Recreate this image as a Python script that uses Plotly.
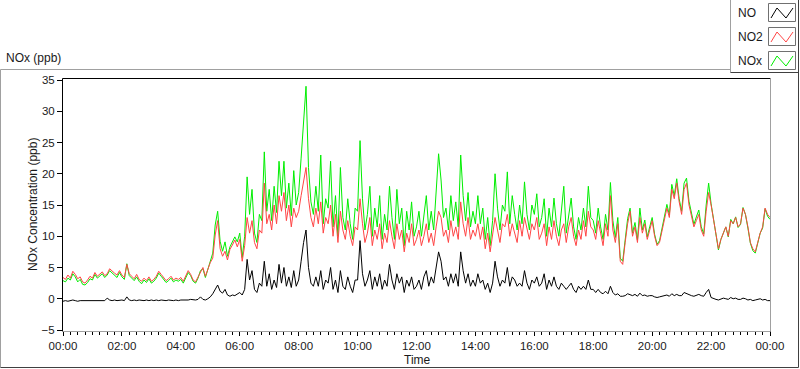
import pandas as pd
import plotly.graph_objects as go

# 5-minute values, 00:00 .. 24:00 (289 samples)
no2_ppb = [
    3.4,3.1,3.8,3.3,4.4,3.9,3.2,3.5,2.7,2.5,3.0,3.6,
    3.3,4.2,3.6,3.9,4.3,3.7,4.0,4.8,4.4,4.1,3.8,4.5,
    3.8,3.4,5.5,4.0,3.6,3.2,3.9,3.1,2.8,3.3,2.9,3.5,
    2.8,3.1,3.6,4.4,3.9,3.4,2.9,3.2,3.6,3.0,3.3,3.1,
    3.4,2.8,3.6,4.5,3.9,3.0,2.7,3.5,4.3,5.0,3.6,4.8,
    5.8,6.5,10.2,12.5,8.0,6.8,7.6,6.2,7.9,8.6,9.4,8.3,
    9.5,6.0,8.5,13.0,10.5,12.5,9.0,8.0,11.0,10.5,18.5,12.0,
    13.5,11.0,15.0,12.0,16.5,14.0,17.0,12.5,15.0,11.5,14.5,13.0,
    14.0,16.5,19.0,21.0,16.0,13.0,11.5,14.5,12.0,15.5,10.5,13.0,
    12.0,15.0,10.0,13.5,9.0,14.0,11.0,9.5,12.5,10.0,8.5,11.5,
    11.0,16.0,12.0,9.0,10.5,13.0,8.5,11.0,9.5,12.0,8.0,10.5,
    9.0,12.5,10.0,8.0,12.0,9.5,11.0,7.5,10.5,9.0,12.0,8.5,
    9.5,11.0,8.5,10.0,12.0,9.0,10.5,8.5,11.5,14.0,13.0,10.0,
    11.0,9.0,12.5,10.0,11.5,9.5,15.5,12.0,10.0,13.0,9.5,11.0,
    10.0,12.0,9.5,11.5,8.0,10.5,7.5,10.0,13.0,11.0,9.0,12.0,
    11.5,13.5,10.0,12.0,10.5,9.0,12.5,10.0,13.0,11.0,9.5,12.0,
    11.0,13.0,9.5,10.5,12.0,8.5,11.5,9.5,12.5,10.0,8.5,11.0,
    12.0,9.0,11.5,13.0,10.0,8.5,11.0,9.5,12.5,10.0,14.0,11.5,
    11.0,9.5,12.5,10.5,8.5,12.0,10.0,16.5,11.0,9.0,12.0,6.0,
    5.5,9.0,12.0,14.0,10.0,11.5,9.0,13.0,10.5,12.0,9.5,11.0,
    12.5,10.0,8.5,9.0,11.0,12.5,14.5,13.0,17.5,16.0,18.5,15.5,
    13.5,17.5,18.5,15.0,13.0,11.5,12.5,13.5,11.0,10.0,14.0,17.0,
    15.0,12.5,10.0,8.0,9.5,10.5,11.5,10.0,12.5,12.0,13.0,11.5,
    12.0,14.5,13.5,11.5,9.0,8.0,7.5,9.0,10.5,11.5,14.5,13.5,
    13.0,
]

no_ppb = [
    -0.4,-0.3,-0.4,-0.3,-0.2,-0.3,-0.4,-0.3,-0.3,-0.2,-0.3,-0.3,
    -0.3,-0.2,-0.3,-0.2,-0.3,-0.3,0.1,-0.2,-0.3,-0.2,-0.3,-0.2,
    -0.2,-0.3,0.3,-0.2,-0.3,-0.2,-0.3,-0.2,-0.3,-0.3,-0.2,-0.3,
    -0.2,-0.3,-0.2,-0.3,-0.2,-0.3,-0.3,-0.2,-0.3,-0.3,-0.2,-0.3,
    -0.2,-0.2,-0.3,-0.2,-0.1,-0.2,-0.2,-0.1,0.3,-0.1,-0.2,0.0,
    0.3,0.8,1.6,2.2,1.2,0.9,1.5,0.6,0.4,0.6,0.5,0.8,
    1.0,0.6,1.5,6.3,3.0,4.5,1.5,1.0,2.5,2.0,6.0,2.0,
    4.0,1.5,3.0,1.8,5.5,2.5,5.0,2.0,3.5,1.8,4.5,2.0,
    3.0,6.0,9.0,11.0,5.0,2.5,2.0,3.5,2.0,4.5,1.5,3.0,
    2.5,5.0,1.5,3.0,1.0,4.5,2.0,1.5,3.5,2.0,1.0,3.0,
    3.0,9.3,4.0,2.0,3.0,4.5,1.5,3.5,2.0,4.0,1.5,3.0,
    2.0,5.5,3.0,1.5,4.0,2.5,3.5,1.0,3.0,2.0,3.5,1.5,
    2.0,3.0,1.5,3.5,4.5,2.0,3.5,2.5,5.0,7.5,6.0,3.0,
    3.5,2.0,4.0,2.5,4.0,2.0,7.5,4.5,2.5,4.0,2.0,3.0,
    2.0,4.0,2.5,3.0,1.5,2.5,1.0,2.5,6.0,3.5,2.0,3.0,
    2.5,5.0,2.0,3.5,3.0,2.0,2.5,2.0,4.5,2.5,1.5,3.0,
    2.5,3.5,2.0,2.5,4.0,1.5,3.0,2.0,3.5,2.0,1.5,2.5,
    2.0,1.5,2.0,2.5,1.5,1.0,2.0,1.5,2.0,1.5,3.0,1.5,
    1.5,1.0,1.5,1.0,0.8,1.2,0.8,2.0,1.0,0.6,0.8,0.4,
    0.4,0.5,0.8,0.6,0.5,0.7,0.4,0.9,0.5,0.6,0.4,0.5,
    0.5,0.3,0.2,0.3,0.4,0.5,0.6,0.4,0.8,0.5,0.7,0.5,
    0.5,1.0,0.8,0.6,0.5,0.4,0.6,0.7,0.5,0.4,1.0,1.5,
    0.2,0.0,-0.1,-0.2,0.0,0.1,0.0,-0.1,0.2,0.0,0.1,-0.1,
    -0.1,0.1,0.0,-0.2,-0.1,-0.3,-0.2,-0.1,0.0,-0.2,-0.1,-0.3,
    -0.3,
]

nox_ppb = [
    2.9,2.7,3.3,3.0,4.0,3.5,2.7,3.1,2.3,2.2,2.6,3.2,
    3.0,3.9,3.3,3.6,4.0,3.4,3.8,4.5,4.1,3.8,3.4,4.2,
    3.5,3.1,5.6,3.7,3.3,2.9,3.5,2.8,2.4,3.0,2.6,3.2,
    2.5,2.8,3.3,4.1,3.6,3.1,2.6,2.9,3.3,2.7,3.0,2.8,
    3.1,2.5,3.3,4.2,3.7,2.8,2.5,3.3,4.5,4.8,3.4,4.7,
    6.1,7.3,11.8,14.0,9.2,7.6,9.1,6.8,8.3,9.2,9.9,9.1,
    10.5,6.6,10.0,19.5,13.5,17.5,10.5,9.0,13.5,12.5,23.5,14.0,
    17.5,12.5,18.0,13.8,22.0,16.5,22.0,14.5,18.5,13.3,20.5,15.0,
    17.0,22.5,28.5,34.0,21.0,15.5,13.5,18.0,14.0,23.0,12.0,16.0,
    14.5,22.0,11.5,16.5,10.0,21.0,13.0,11.0,16.0,12.0,9.5,14.5,
    14.0,25.3,16.0,11.0,13.5,18.0,10.0,14.5,11.5,16.5,9.5,13.5,
    11.0,18.0,13.0,9.5,17.5,12.0,14.5,8.5,14.0,11.0,15.5,10.0,
    11.5,14.0,10.0,13.5,16.5,11.0,14.0,11.0,17.5,23.2,19.0,13.0,
    14.5,11.0,16.5,12.5,15.5,11.5,23.0,16.5,12.5,17.0,11.5,14.0,
    12.0,16.5,12.0,14.5,9.5,13.0,8.5,12.5,20.0,14.5,11.0,15.0,
    14.0,20.3,12.0,16.5,13.5,11.0,15.0,12.0,18.7,13.5,11.0,15.0,
    13.5,16.8,11.5,13.0,16.0,10.0,14.5,11.5,16.1,12.0,10.0,13.5,
    18.0,10.5,13.5,16.1,11.5,9.5,13.0,11.0,14.5,11.5,18.0,13.0,
    12.5,10.5,14.5,11.5,9.5,13.5,11.0,18.6,12.5,9.8,13.0,6.5,
    6.0,9.5,12.8,14.5,10.5,12.2,9.4,14.5,11.0,12.6,9.9,11.5,
    13.0,10.3,8.7,9.3,11.4,13.0,15.1,13.4,18.3,16.5,19.2,16.0,
    14.0,18.5,19.3,15.6,13.5,11.9,13.1,14.2,11.5,10.4,15.0,18.5,
    15.2,12.5,9.9,7.8,9.5,10.6,11.5,9.9,12.7,12.0,13.1,11.4,
    11.9,14.6,13.5,11.3,8.9,7.7,7.3,8.9,10.5,11.3,14.4,13.2,
    12.7,
]

x_tick_labels = ["00:00", "02:00", "04:00", "06:00", "08:00", "10:00", "12:00",
                 "14:00", "16:00", "18:00", "20:00", "22:00", "00:00"]
y_ticks = [-5, 0, 5, 10, 15, 20, 25, 30, 35]

times = pd.date_range("2013-01-01 00:00", periods=len(no_ppb), freq="5min")
tick_vals = pd.date_range("2013-01-01 00:00", periods=len(x_tick_labels), freq="2h")

W, H = 800, 369
L, R, T, B = 63, 770, 80, 330   # plot area in pixels

def px(x):
    return (x - L) / (R - L)

def py(y):
    return (B - y) / (B - T)

FONT = "Liberation Sans"
TXT = "#1a1a1a"

fig = go.Figure()
fig.add_trace(go.Scatter(x=times, y=nox_ppb, mode="lines", name="NOx",
                         line=dict(color="#00ee00", width=1)))
fig.add_trace(go.Scatter(x=times, y=no2_ppb, mode="lines", name="NO2",
                         line=dict(color="#ff4545", width=1)))
fig.add_trace(go.Scatter(x=times, y=no_ppb, mode="lines", name="NO",
                         line=dict(color="#000000", width=1)))

shapes = []
def line(x0, y0, x1, y1, color, w=1):
    shapes.append(dict(type="line", xref="paper", yref="paper",
                       x0=px(x0), y0=py(y0), x1=px(x1), y1=py(y1),
                       line=dict(color=color, width=w)))

# outer panel
line(0.5, 69.5, 730.5, 69.5, "#a0a0a0")
line(0.5, 69.5, 0.5, 367.5, "#a0a0a0")
line(0.5, 367.5, 798.5, 367.5, "#404040")
line(798.5, 72, 798.5, 367.5, "#404040")
# plot frame
line(62.5, 78.5, 770.5, 78.5, "#000000")
line(62.5, 78.5, 62.5, 331.5, "#000000")
line(770.5, 78.5, 770.5, 331.5, "#a0a0a0")
line(62.5, 331.5, 770.5, 331.5, "#a0a0a0")
# legend box
line(730.5, 0, 730.5, 72.5, "#a0a0a0")
line(730.5, 72.5, 798.5, 72.5, "#404040")
line(798.5, 0, 798.5, 72.5, "#404040")

legend_items = [("NO", "#000000", 3), ("NO2", "#ff4545", 27), ("NOx", "#00ee00", 51)]
annotations = []
for name, color, top in legend_items:
    shapes.append(dict(type="rect", xref="paper", yref="paper",
                       x0=px(768.5), x1=px(795.5), y0=py(top + 0.5), y1=py(top + 18.5),
                       line=dict(color="#707070", width=1), fillcolor="white"))
    pts = [(771, top + 15), (777, top + 5), (786, top + 15), (793, top + 5)]
    path = "M " + " L ".join(f"{px(a)},{py(b)}" for a, b in pts)
    shapes.append(dict(type="path", xref="paper", yref="paper", path=path,
                       line=dict(color=color, width=1)))
    annotations.append(dict(text=name, xref="paper", yref="paper",
                            x=px(736), y=py(top + 10), xanchor="left", yanchor="middle",
                            showarrow=False, font=dict(family=FONT, size=12, color=TXT)))

annotations += [
    dict(text="NOx (ppb)", xref="paper", yref="paper", x=px(4), y=py(58),
         xanchor="left", yanchor="middle", showarrow=False,
         font=dict(family=FONT, size=12, color=TXT)),
    dict(text="NOx Concentration (ppb)", xref="paper", yref="paper", x=px(33), y=py(205),
         xanchor="center", yanchor="middle", textangle=-90, showarrow=False,
         font=dict(family=FONT, size=12, color=TXT)),
    dict(text="Time", xref="paper", yref="paper", x=px(417), y=py(360),
         xanchor="center", yanchor="middle", showarrow=False,
         font=dict(family=FONT, size=12, color=TXT)),
]

fig.update_layout(
    width=W, height=H,
    margin=dict(l=L, r=W - R, t=T, b=H - B),
    paper_bgcolor="white", plot_bgcolor="white",
    showlegend=False,
    shapes=shapes, annotations=annotations,
    xaxis=dict(
        range=[tick_vals[0], tick_vals[-1]],
        tickvals=tick_vals, ticktext=x_tick_labels,
        ticks="outside", ticklen=5, tickcolor="#000000",
        minor=dict(dtick=15 * 60 * 1000, ticks="outside", ticklen=4, tickcolor="#000000", showgrid=False),
        showgrid=False, zeroline=False, showline=False,
        tickfont=dict(family=FONT, size=11.5, color=TXT),
    ),
    yaxis=dict(
        range=[-5, 35], tickvals=y_ticks,
        ticks="outside", ticklen=5, tickcolor="#000000",
        showgrid=False, zeroline=False, showline=False,
        tickfont=dict(family=FONT, size=11.5, color=TXT),
    ),
)

fig.write_html("out.html", config={"displayModeBar": False},
               post_script="document.body.style.margin='0';document.body.style.overflow='hidden';")
